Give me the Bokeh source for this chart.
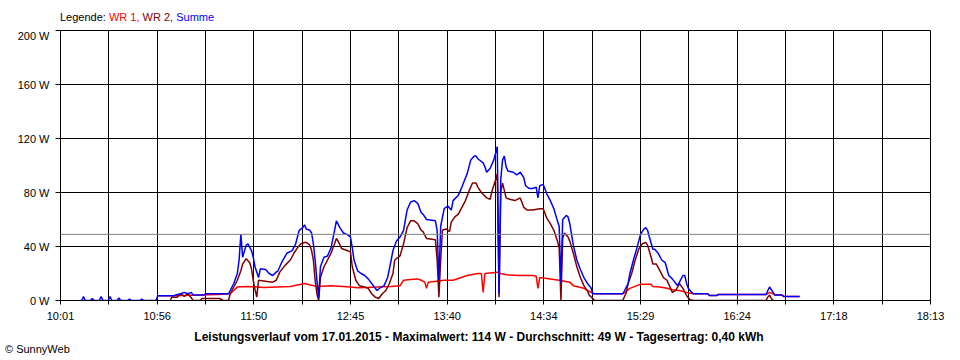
from bokeh.plotting import figure
from bokeh.layouts import column
from bokeh.models import (Range1d, FixedTicker, CustomJSTickFormatter,
                          PrintfTickFormatter, Span, Div)
from bokeh.embed import file_html
from bokeh.resources import INLINE

FONT = "Liberation Sans"

# ---------------- data ----------------
x_first = "10:01"
x_last = "18:13"
tick_labels = ["10:01", "10:56", "11:50", "12:45", "13:40",
               "14:34", "15:29", "16:24", "17:18", "18:13"]
y_ticks = [0, 40, 80, 120, 160, 200]
average_w = 49

legend_items = ["Legende:", "WR 1,", "WR 2,", "Summe"]
legend_colors = ["#000000", "#FF0000", "#800000", "#0000FF"]
title_text = ("Leistungsverlauf vom 17.01.2015 - Maximalwert: 114 W - "
              "Durchschnitt: 49 W - Tagesertrag: 0,40 kWh")
copyright_text = "\u00a9 SunnyWeb"

# Summe (blue)
sum_t = ["10:12", "10:13", "10:14", "10:15", "10:18", "10:19", "10:20", "10:23", "10:24", "10:25",
         "10:28", "10:29", "10:30", "10:33", "10:34", "10:35", "10:39", "10:40", "10:41", "10:46",
         "10:47", "10:48", "10:55", "10:56", "11:05", "11:06", "11:09", "11:11", "11:13", "11:15",
         "11:16", "11:22", "11:23", "11:36", "11:39", "11:41", "11:42", "11:43", "11:44", "11:46",
         "11:47", "11:49", "11:50", "11:51", "11:52", "11:53", "11:54", "11:57", "11:59", "12:01",
         "12:03", "12:04", "12:06", "12:09", "12:12", "12:14", "12:16", "12:18", "12:19", "12:20",
         "12:22", "12:23", "12:24", "12:25", "12:26", "12:27", "12:28", "12:30", "12:32", "12:34",
         "12:36", "12:37", "12:39", "12:41", "12:43", "12:45", "12:46", "12:47", "12:49", "12:51",
         "12:53", "12:55", "12:57", "12:59", "13:00", "13:02", "13:04", "13:06", "13:08", "13:09",
         "13:11", "13:13", "13:15", "13:17", "13:19", "13:21", "13:23", "13:25", "13:26", "13:28",
         "13:33", "13:34", "13:35", "13:36", "13:38", "13:40", "13:42", "13:43", "13:46", "13:48",
         "13:51", "13:53", "13:55", "13:56", "13:57", "14:00", "14:01", "14:02", "14:04", "14:06",
         "14:07", "14:08", "14:09", "14:10", "14:11", "14:12", "14:13", "14:14", "14:17", "14:19",
         "14:21", "14:23", "14:24", "14:26", "14:28", "14:30", "14:31", "14:32", "14:34", "14:36",
         "14:38", "14:40", "14:42", "14:43", "14:44", "14:45", "14:47", "14:48", "14:49", "14:51",
         "14:53", "14:55", "14:57", "14:59", "15:01", "15:02", "15:19", "15:20", "15:22", "15:23",
         "15:25", "15:27", "15:29", "15:31", "15:32", "15:33", "15:34", "15:36", "15:37", "15:39",
         "15:41", "15:43", "15:45", "15:47", "15:49", "15:50", "15:53", "15:54", "15:55", "15:56",
         "15:58", "15:59", "16:07", "16:08", "16:12", "16:13", "16:40", "16:41", "16:42", "16:44",
         "16:45", "16:49", "16:50", "16:59"]
sum_w = [0, 0, 3, 0, 0, 1.5, 0, 0, 3, 0,
         0, 3, 0, 0, 2, 0, 0, 1, 0, 0,
         1, 0, 0, 3.5, 3.5, 4, 5, 6, 5, 6,
         4, 4, 5, 5, 12.6, 20, 30, 49, 32, 41,
         42, 37, 32, 25, 21, 17, 23.5, 23, 20, 18.5,
         21, 22, 28, 35, 37, 42, 52, 54, 56, 53,
         52, 50, 42, 30, 15, 2, 25, 32, 33, 39,
         52, 59, 54, 50, 49, 47, 39, 30, 22, 20,
         18.5, 16, 12.6, 9, 7.4, 9.6, 11, 17, 30, 37,
         44, 47, 52, 67, 73, 74, 72, 65, 64, 60,
         59, 52, 15, 55, 68, 70, 67, 74, 78, 84,
         94, 104, 107, 107, 105, 102, 99, 95, 98, 104,
         109, 114, 5, 90, 104, 107, 99, 96, 95, 93,
         95, 91, 85, 83, 83, 84, 76, 85, 86, 79,
         74, 68, 59, 55, 13, 60, 63, 62, 57, 41,
         30, 23, 17, 12.6, 9.5, 5, 5, 7.4, 12.6, 20,
         30, 39, 49, 53, 54, 52, 47, 38, 38, 35,
         30, 28, 18.5, 16, 12.6, 11, 18.5, 18.5, 13, 9,
         6, 5, 5, 3.7, 3.7, 4.4, 4.4, 7.4, 10, 6,
         4, 4, 3, 3]

# WR 2 (dark red)
wr2_t = ["11:03", "11:04", "11:07", "11:09", "11:11", "11:13", "11:15", "11:16", "11:20", "11:21",
         "11:31", "11:33", "11:36", "11:37", "11:39", "11:41", "11:43", "11:44", "11:46", "11:48",
         "11:49", "11:50", "11:51", "11:52", "11:53", "11:58", "12:01", "12:03", "12:05", "12:08",
         "12:11", "12:13", "12:15", "12:17", "12:19", "12:20", "12:22", "12:23", "12:24", "12:25",
         "12:26", "12:27", "12:28", "12:30", "12:32", "12:34", "12:36", "12:37", "12:38", "12:40",
         "12:43", "12:45", "12:46", "12:48", "12:50", "12:53", "12:55", "12:57", "12:59", "13:01",
         "13:03", "13:05", "13:07", "13:09", "13:10", "13:13", "13:15", "13:17", "13:19", "13:21",
         "13:23", "13:25", "13:26", "13:28", "13:33", "13:34", "13:35", "13:36", "13:37", "13:39",
         "13:41", "13:42", "13:44", "13:46", "13:48", "13:50", "13:52", "13:54", "13:56", "13:57",
         "13:59", "14:02", "14:04", "14:05", "14:07", "14:08", "14:09", "14:10", "14:11", "14:13",
         "14:15", "14:18", "14:21", "14:23", "14:25", "14:28", "14:32", "14:34", "14:36", "14:38",
         "14:40", "14:42", "14:43", "14:44", "14:45", "14:46", "14:48", "14:49", "14:51", "14:53",
         "14:55", "14:57", "14:59", "15:00", "15:02", "15:03", "15:19", "15:21", "15:22", "15:24",
         "15:26", "15:28", "15:30", "15:32", "15:33", "15:35", "15:36", "15:38", "15:40", "15:42",
         "15:44", "15:46", "15:47", "15:49", "15:51", "15:53", "15:55", "15:57", "15:59", "16:40",
         "16:41", "16:42", "16:43", "16:44"]
wr2_w = [0, 2.5, 2.5, 5, 3, 5, 2, 0, 0, 1.5,
         1.5, 0, 0, 5, 10, 15, 22, 27, 31, 28,
         23.5, 15, 8, 2.5, 15, 14, 13.6, 15, 21, 26,
         30, 35, 39, 42, 43, 43, 41, 37, 30, 15,
         5, 0, 17, 25, 30, 35, 42, 46, 44, 38.5,
         37, 36, 25, 15, 11, 10, 9, 5, 2.5, 1.5,
         5, 7.4, 12.6, 20, 30, 33, 42, 54, 59, 59,
         57, 52, 51, 46, 45, 30, 2.5, 30, 52, 53,
         51, 58, 62, 64, 69, 74, 81, 87, 87, 84,
         80, 76, 75, 81, 89, 94, 2.5, 81, 87, 76,
         75, 74, 76, 69, 67, 67, 68, 68, 61, 57,
         52, 44, 39, 0, 46, 50, 47, 44, 35, 25,
         17, 11, 7, 4, 1.5, 0, 0, 6, 12.6, 20,
         30, 38, 42, 43, 41, 32, 27, 27, 22, 17,
         15, 9, 6, 7.5, 12.6, 9, 3.7, 0.5, 0, 0,
         2.5, 4, 1.5, 0]

# WR 1 (red)
wr1_t = ["10:56", "11:05", "11:20", "11:30", "11:37", "11:39", "11:41", "11:47", "11:52", "11:56",
         "12:03", "12:11", "12:19", "12:26", "12:34", "12:41", "12:45", "12:49", "12:54", "13:00",
         "13:08", "13:13", "13:15", "13:19", "13:23", "13:25", "13:27", "13:28", "13:29", "13:38",
         "13:43", "13:51", "13:57", "13:59", "14:00", "14:01", "14:08", "14:10", "14:13", "14:21",
         "14:28", "14:30", "14:31", "14:32", "14:38", "14:43", "14:49", "14:51", "14:57", "15:01",
         "15:03", "15:19", "15:20", "15:23", "15:27", "15:29", "15:35", "15:36", "15:40", "15:44",
         "15:47", "15:51", "15:55", "15:59", "16:07", "16:08", "16:12", "16:13", "16:40", "16:42",
         "16:44", "16:45", "16:49", "16:50", "16:59"]
wr1_w = [3.5, 3.5, 4, 4.5, 5, 7.4, 10, 10.4, 10, 9.6,
         10, 10.4, 12.6, 10.4, 11, 10.4, 10, 9.5, 9.6, 10,
         10.4, 11, 15, 15.5, 16, 15, 13.6, 9, 13.6, 15,
         15, 18.5, 20, 20, 6, 20, 21, 20, 19, 18.5,
         18.5, 18, 9, 17, 16, 15, 13.6, 11, 9, 6,
         5, 5, 6, 9, 11, 12, 12, 10.4, 10, 9,
         8, 7.4, 6, 5, 5, 3.7, 3.7, 4.4, 4.4, 6,
         5, 4, 4, 3, 3]


def to_s(t):
    h, m = t.split(":")
    return int(h) * 3600 + int(m) * 60


x0 = to_s(x_first)
x1 = to_s(x_last)
n_int = 2 * (len(tick_labels) - 1)
step = (x1 - x0) / n_int
ticks = [x0 + i * step for i in range(n_int + 1)]
all_labels = []
for lab in tick_labels:
    all_labels += [lab, ""]
all_labels = all_labels[:n_int + 1]

W = 958

p = figure(width=W, height=301, frame_width=870, frame_height=270,
           output_backend="svg", toolbar_location=None,
           x_range=Range1d(x0, x1), y_range=Range1d(0, 200),
           min_border_left=60, min_border_right=28, min_border_top=1,
           min_border_bottom=30, background_fill_color="white",
           border_fill_color="white")
p.outline_line_color = "black"
p.outline_line_width = 1

for ax in (p.xaxis[0], p.yaxis[0]):
    ax.axis_line_color = "black"
    ax.major_tick_line_color = "black"
    ax.minor_tick_line_color = None
    ax.major_tick_in = 0
    ax.major_label_text_font = FONT
    ax.major_label_text_font_size = "11px"
    ax.major_label_text_color = "black"

p.xaxis.ticker = FixedTicker(ticks=ticks)
p.xaxis.major_tick_out = 4
p.xaxis.major_label_standoff = 5
p.xaxis.formatter = CustomJSTickFormatter(
    args=dict(labels=all_labels, x0=x0, step=step),
    code="const i = Math.round((tick - x0) / step); return labels[i] || '';")
p.yaxis.ticker = FixedTicker(ticks=y_ticks)
p.yaxis.major_tick_out = 5
p.yaxis.major_label_standoff = 6
p.yaxis.formatter = PrintfTickFormatter(format="%d W")

p.xgrid.ticker = FixedTicker(ticks=ticks)
p.ygrid.ticker = FixedTicker(ticks=y_ticks)
for g in (p.xgrid[0], p.ygrid[0]):
    g.grid_line_color = "black"
    g.grid_line_alpha = 1
    g.grid_line_width = 1

p.add_layout(Span(location=average_w, dimension="width",
                  line_color="#808080", line_width=1))

p.line([to_s(t) for t in wr1_t], wr1_w, line_color="#FF0000", line_width=1.5)
p.line([to_s(t) for t in wr2_t], wr2_w, line_color="#800000", line_width=1.5)
p.line([to_s(t) for t in sum_t], sum_w, line_color="#0000FF", line_width=1.5)

text_style = {"font-family": "'Liberation Sans', Arial, sans-serif",
              "font-size": "11px", "color": "black"}

legend_html = " ".join(
    '<span style="color:%s">%s</span>' % (c, t)
    for t, c in zip(legend_items, legend_colors))
top = Div(text='<div style="padding:11px 0 0 60px;line-height:13px;'
               'white-space:nowrap">%s</div>' % legend_html,
          width=W, height=29, margin=0, styles=text_style)

bottom = Div(text='<div style="width:%dpx;padding-top:1px;line-height:12px;text-align:center;'
                  'font-weight:bold;font-size:12px;white-space:nowrap">%s</div>'
                  '<div style="padding-left:5px;line-height:12px;white-space:nowrap">%s</div>'
                  % (W, title_text, copyright_text),
             width=W, height=28, margin=0, styles=text_style)

layout = column(top, p, bottom, spacing=0)

open("out.html", "w").write(file_html(layout, INLINE))
